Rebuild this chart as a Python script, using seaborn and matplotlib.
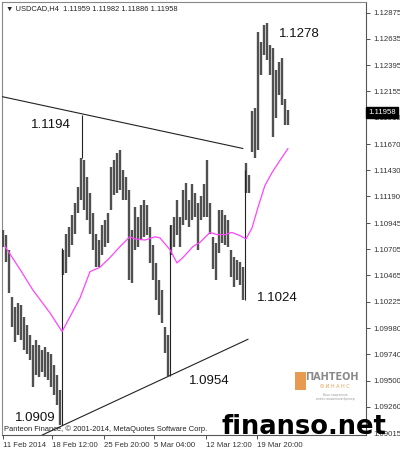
import numpy as np
import pandas as pd
import matplotlib
matplotlib.use("Agg")
import matplotlib.pyplot as plt
import matplotlib.transforms as mtransforms
import seaborn as sns

# ── Data ───────────────────────────────────────────────────────────────────

bar_high = [
    1.1088, 1.1084, 1.1070, 1.1027, 1.1018, 1.1021, 1.1019, 1.1008, 1.1001, 1.0992,
    1.0983, 1.0987, 1.0983, 1.0978, 1.0981, 1.0976, 1.0974, 1.0964, 1.0955, 1.0941,
    1.1070, 1.1085, 1.1091, 1.1102, 1.1113, 1.1128, 1.1154, 1.1152, 1.1137, 1.1122,
    1.1104, 1.1085, 1.1079, 1.1093, 1.1097, 1.1104, 1.1146, 1.1152, 1.1159, 1.1162,
    1.1143, 1.1137, 1.1125, 1.1088, 1.1109, 1.1100, 1.1111, 1.1116, 1.1111, 1.1091,
    1.1074, 1.1058, 1.1042, 1.1033, 1.0999, 1.0992, 1.1093, 1.1100, 1.1116, 1.1100,
    1.1125, 1.1131, 1.1116, 1.1130, 1.1122, 1.1113, 1.1119, 1.1130, 1.1152, 1.1113,
    1.1082, 1.1076, 1.1107, 1.1107, 1.1102, 1.1097, 1.1070, 1.1063, 1.1061, 1.1059,
    1.1054, 1.1150, 1.1139, 1.1197, 1.1200, 1.1270, 1.1261, 1.1276, 1.1278, 1.1258,
    1.1255, 1.1235, 1.1242, 1.1246, 1.1208, 1.1198,
]
bar_low = [
    1.1073, 1.1059, 1.1030, 1.0999, 1.0985, 1.0992, 1.0987, 1.0978, 1.0974, 1.0969,
    1.0944, 1.0955, 1.0953, 1.0958, 1.0953, 1.0951, 1.0944, 1.0937, 1.0928, 1.0909,
    1.1047, 1.1049, 1.1063, 1.1074, 1.1085, 1.1104, 1.1116, 1.1107, 1.1097, 1.1085,
    1.1070, 1.1054, 1.1054, 1.1065, 1.1073, 1.1076, 1.1107, 1.1120, 1.1122, 1.1125,
    1.1116, 1.1116, 1.1042, 1.1040, 1.1070, 1.1073, 1.1079, 1.1082, 1.1084, 1.1058,
    1.1042, 1.1024, 1.1010, 1.1003, 1.0975, 1.0954, 1.1065, 1.1073, 1.1084, 1.1073,
    1.1093, 1.1097, 1.1091, 1.1097, 1.1100, 1.1070, 1.1097, 1.1100, 1.1100, 1.1085,
    1.1052, 1.1042, 1.1067, 1.1076, 1.1074, 1.1073, 1.1045, 1.1036, 1.1042, 1.1038,
    1.1024, 1.1122, 1.1122, 1.1160, 1.1154, 1.1162, 1.1230, 1.1249, 1.1244, 1.1230,
    1.1174, 1.1191, 1.1212, 1.1203, 1.1185, 1.1185,
]

# long swing legs drawn on the chart
swing_idx = [19.6, 26.3, 55.8, 80.6]
swing_low = [1.0909, 1.1154, 1.0954, 1.1024]
swing_high = [1.1072, 1.1194, 1.1093, 1.1143]

# moving average (magenta)
ma_idx = [0.7, 5.7, 10, 15.7, 19.7, 25.7, 29, 32.3, 35.7, 39, 42.3, 44, 47.3, 50.7,
          52.3, 55.7, 58, 60, 63.3, 65.7, 69, 71.3, 74, 76.3, 79, 81, 83, 85, 87.3,
          89.7, 92.3, 95]
ma_val = [1.1073, 1.1052, 1.1033, 1.1012, 1.0995, 1.1026, 1.1050, 1.1054, 1.1063,
          1.1073, 1.1082, 1.1080, 1.1079, 1.1082, 1.1081, 1.1070, 1.1058, 1.1063,
          1.1073, 1.1077, 1.1086, 1.1084, 1.1084, 1.1086, 1.1083, 1.1080, 1.1090,
          1.1109, 1.1129, 1.1141, 1.1152, 1.1163]

# channel lines
upper_idx = [-1.0, 80.0]
upper_val = [1.1211, 1.1163]
lower_idx = [13.0, 81.7]
lower_val = [1.0900, 1.0988]

# swing labels
label_text = ["1.1194", "1.1278", "1.1024", "1.0954", "1.0909"]
label_idx = [16.0, 98.7, 91.3, 68.7, 10.7]
label_val = [1.1185, 1.1268, 1.1026, 1.0950, 1.0916]

ytick_vals = [1.12875, 1.12635, 1.12395, 1.12155, 1.11910, 1.11670, 1.11430, 1.11190,
              1.10945, 1.10705, 1.10465, 1.10225, 1.09980, 1.09740, 1.09500, 1.09260,
              1.09015]
xtick_pos = [0, 16.3, 33.7, 50.3, 67.7, 84.7]
xtick_labels = ["11 Feb 2014", "18 Feb 12:00", "25 Feb 20:00", "5 Mar 04:00",
                "12 Mar 12:00", "19 Mar 20:00"]

last_price = 1.11958
header = "\u25bc USDCAD,H4  1.11959 1.11982 1.11886 1.11958"

# ── Plot ───────────────────────────────────────────────────────────────────

sns.set_style("white")
plt.rcParams["font.family"] = ["Liberation Sans", "DejaVu Sans"]

fig = plt.figure(figsize=(4, 4.5), dpi=100)
ax = fig.add_axes([0.005, 0.0333, 0.91, 0.9622])

bars = pd.DataFrame({"i": np.arange(len(bar_high)), "hi": bar_high, "lo": bar_low})
ax.vlines(bars["i"], bars["lo"], bars["hi"], color="#505050", lw=1.7, zorder=3)
ax.vlines(swing_idx, swing_low, swing_high, color="#222222", lw=0.8, zorder=3)

ma = pd.DataFrame({"i": ma_idx, "v": ma_val})
sns.lineplot(data=ma, x="i", y="v", ax=ax, color="#ff44ff", lw=0.9, zorder=4)
sns.lineplot(x=upper_idx, y=upper_val, ax=ax, color="#222222", lw=0.8, zorder=4)
sns.lineplot(x=lower_idx, y=lower_val, ax=ax, color="#222222", lw=0.8, zorder=4)

for t, xi, yv in zip(label_text, label_idx, label_val):
    ax.text(xi, yv, t, fontsize=9.5, color="#111111", ha="center", va="center", zorder=5)

ax.set_xlim(-0.33, 121.0)
ax.set_ylim(1.09001, 1.12974)
ax.set_xlabel("")
ax.set_ylabel("")

ax.yaxis.tick_right()
ax.set_yticks(ytick_vals)
ax.set_yticklabels([f"{v:.5f}" for v in ytick_vals])
ax.set_xticks(xtick_pos)
ax.set_xticklabels(xtick_labels)
for lab in ax.get_xticklabels():
    lab.set_horizontalalignment("left")
ax.tick_params(axis="both", direction="out", length=3, width=0.6, labelsize=5.6,
               colors="#333333", pad=2)
ax.tick_params(axis="y", right=True, left=False)
ax.tick_params(axis="x", bottom=True)

for side in ax.spines.values():
    side.set_color("#888888")
    side.set_linewidth(0.8)
ax.spines["right"].set_color("#555555")
ax.spines["bottom"].set_color("#555555")

# current price box
trans = mtransforms.blended_transform_factory(ax.transAxes, ax.transData)
ax.text(1.006, last_price, "1.11958", transform=trans, fontsize=5.6, color="white",
        ha="left", va="center", zorder=10, clip_on=False,
        bbox=dict(boxstyle="square,pad=0.25", fc="black", ec="black"))

ax.text(0.01, 0.992, header, transform=ax.transAxes, fontsize=5.4, color="#222222",
        ha="left", va="top", family=["Liberation Sans", "DejaVu Sans"])
ax.text(0.005, 0.004, "Panteon Finance, \u00a9 2001-2014, MetaQuotes Software Corp.",
        transform=ax.transAxes, fontsize=5.4, color="#222222", ha="left", va="bottom")

# logo
ax.text(0.905, 0.135, "ПАНТЕОН", transform=ax.transAxes, fontsize=7, color="#8a8a8a",
        ha="center", va="center", fontweight="bold", family="DejaVu Sans")
ax.text(0.915, 0.113, "Ф И Н А Н С", transform=ax.transAxes, fontsize=3.5,
        color="#e8a050", ha="center", va="center", family="DejaVu Sans")
ax.text(0.915, 0.097, "Ваш надежный\nинвестиционный брокер", transform=ax.transAxes,
        fontsize=2.2, color="#999999", ha="center", va="top", family="DejaVu Sans",
        linespacing=1.1)
ax.add_patch(plt.Rectangle((0.805, 0.105), 0.03, 0.04, transform=ax.transAxes,
                           fc="#e89a50", ec="none", zorder=5))

# watermark
fig.text(0.965, 0.022, "finanso.net", fontsize=18.5, fontweight="bold", color="black",
         ha="right", va="bottom", family="DejaVu Sans", zorder=20)

fig.savefig("out.png", dpi=100)
